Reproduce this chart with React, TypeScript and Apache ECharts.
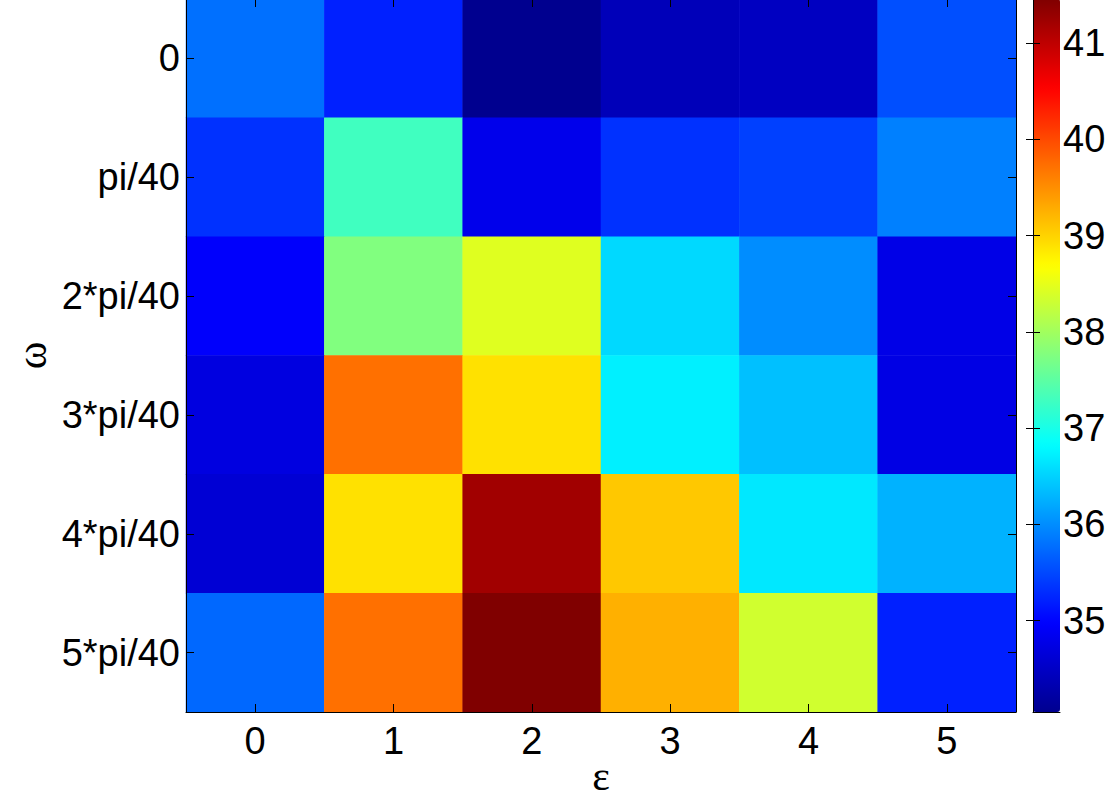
import React, { useEffect, useRef } from "react";
import * as echarts from "echarts";

const xCategories = ["0", "1", "2", "3", "4", "5"];
const yCategories = ["0", "pi/40", "2*pi/40", "3*pi/40", "4*pi/40", "5*pi/40"];

// rows follow yCategories (top to bottom), columns follow xCategories
const row0 = [35.79, 35.21, 34.05, 34.4, 34.46, 35.55];
const row1 = [35.33, 37.29, 34.81, 35.33, 35.44, 35.9];
const row2 = [34.95, 37.76, 38.45, 36.55, 36.0, 34.78];
const row3 = [34.72, 39.72, 38.9, 36.72, 36.37, 34.75];
const row4 = [34.62, 38.9, 41.22, 39.08, 36.66, 36.27];
const row5 = [35.73, 39.72, 41.46, 39.26, 38.34, 35.21];
const rows = [row0, row1, row2, row3, row4, row5];

const colorMin = 34.05;
const colorMax = 41.46;
const jetColors = [
  "#00008F",
  "#0000FF",
  "#0080FF",
  "#00FFFF",
  "#80FF80",
  "#FFFF00",
  "#FF8000",
  "#FF0000",
  "#800000",
];

const sans = "'Liberation Sans', Arial, Helvetica, sans-serif";
const serif = "'Liberation Serif', 'Times New Roman', serif";

export default function App() {
  const ref = useRef<HTMLDivElement>(null);

  useEffect(() => {
    document.body.style.margin = "0";
    if (!ref.current) return;
    const chart = echarts.init(ref.current, undefined, { renderer: "svg" });

    const data: number[][] = [];
    rows.forEach((row, yi) => {
      row.forEach((v, xi) => data.push([xi, yi, v]));
    });

    const blackLine = { show: true, lineStyle: { color: "#000", width: 1 } };
    const insideTick = {
      show: true,
      inside: true,
      alignWithLabel: true,
      length: 8,
      lineStyle: { color: "#000", width: 1 },
    };
    const labelStyle = { color: "#000", fontSize: 38, fontFamily: sans };

    chart.setOption({
      animation: false,
      backgroundColor: "#fff",
      grid: [
        { left: 186, top: -1, width: 830, height: 713, containLabel: false, outerBoundsMode: "none" },
        { left: 1033, top: -1, width: 27, height: 713, containLabel: false, outerBoundsMode: "none" },
      ],
      xAxis: [
        {
          type: "category",
          gridIndex: 0,
          data: xCategories,
          position: "bottom",
          z: 10,
          axisLine: blackLine,
          axisTick: insideTick,
          axisLabel: { ...labelStyle, margin: 10 },
          splitLine: { show: false },
          name: "ε",
          nameLocation: "middle",
          nameGap: 43,
          nameMoveOverlap: false,
          nameTextStyle: { color: "#000", fontSize: 42, fontFamily: serif },
        },
        {
          type: "category",
          gridIndex: 0,
          data: xCategories,
          position: "top",
          z: 10,
          axisLine: blackLine,
          axisTick: insideTick,
          axisLabel: { show: false },
          splitLine: { show: false },
        },
        {
          type: "value",
          gridIndex: 1,
          position: "bottom",
          z: 10,
          axisLine: blackLine,
          axisTick: { show: false },
          axisLabel: { show: false },
          splitLine: { show: false },
        },
      ],
      yAxis: [
        {
          type: "category",
          gridIndex: 0,
          data: yCategories,
          inverse: true,
          position: "left",
          z: 10,
          axisLine: blackLine,
          axisTick: insideTick,
          axisLabel: { ...labelStyle, margin: 6 },
          splitLine: { show: false },
          name: "ω",
          nameLocation: "middle",
          nameGap: 133,
          nameMoveOverlap: false,
          nameRotate: 90,
          nameTextStyle: { color: "#000", fontSize: 42, fontFamily: serif },
        },
        {
          type: "category",
          gridIndex: 0,
          data: yCategories,
          inverse: true,
          position: "right",
          z: 10,
          axisLine: blackLine,
          axisTick: insideTick,
          axisLabel: { show: false },
          splitLine: { show: false },
        },
        {
          type: "value",
          gridIndex: 1,
          position: "right",
          min: colorMin,
          max: colorMax,
          z: 10,
          axisLine: blackLine,
          axisTick: { show: true, inside: true, length: 7, lineStyle: { color: "#000" } },
          axisLabel: {
            ...labelStyle,
            margin: 3,
            showMinLabel: false,
            showMaxLabel: false,
            formatter: (v: number) => (Math.abs(v - Math.round(v)) < 1e-6 ? String(Math.round(v)) : ""),
          },
          splitLine: { show: false },
        },
        {
          type: "value",
          gridIndex: 1,
          position: "left",
          min: colorMin,
          max: colorMax,
          z: 10,
          axisLine: blackLine,
          axisTick: { show: true, inside: true, length: 7, lineStyle: { color: "#000" } },
          axisLabel: { show: false },
          splitLine: { show: false },
        },
      ],
      visualMap: {
        type: "continuous",
        min: colorMin,
        max: colorMax,
        calculable: false,
        realtime: false,
        seriesIndex: 0,
        orient: "vertical",
        left: 1033,
        top: -1,
        padding: 0,
        itemWidth: 27,
        itemHeight: 713,
        text: ["", ""],
        showLabel: false,
        hoverLink: false,
        inRange: { color: jetColors },
      },
      series: [
        {
          type: "heatmap",
          xAxisIndex: 0,
          yAxisIndex: 0,
          data,
          itemStyle: { borderWidth: 0 },
          emphasis: { disabled: true },
        },
      ],
    });

    return () => chart.dispose();
  }, []);

  return <div ref={ref} style={{ width: 1108, height: 800 }} />;
}
